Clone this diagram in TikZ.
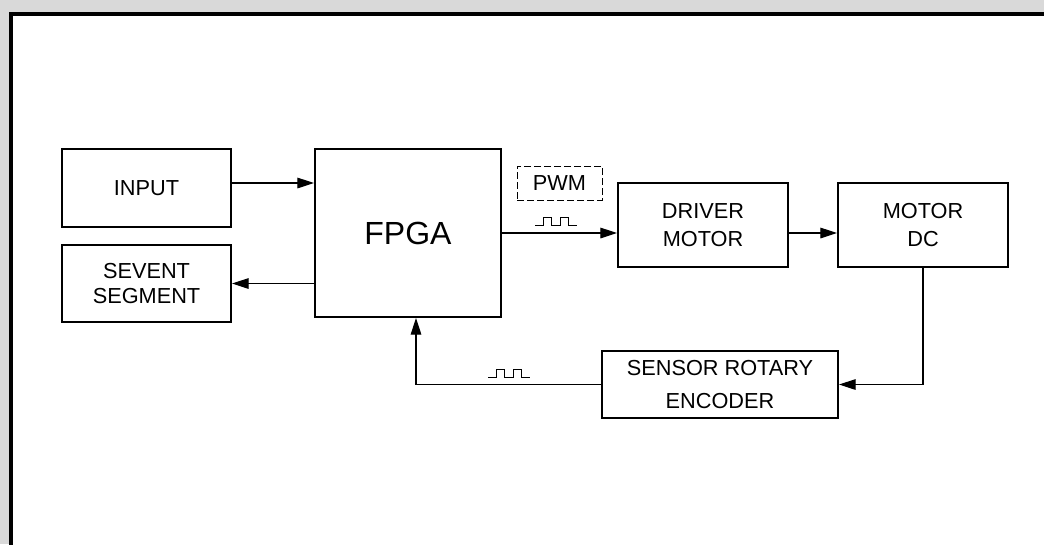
\documentclass[tikz,border=0pt]{standalone}
\usepackage{fontspec}
\setmainfont{Liberation Sans}
\usetikzlibrary{arrows.meta,calc}
\definecolor{bggray}{RGB}{217,217,217}
\begin{document}
\begin{tikzpicture}[x=0.75pt,y=-0.75pt,
  blk/.style={draw, line width=1.6pt, inner sep=0pt, align=center,
    font=\fontsize{16.3pt}{20.8pt}\selectfont},
  conn/.style={line width=0.8pt},
  arr/.style={conn, -{Triangle[length=12.5pt,width=8pt]}},
  pulse/.pic={\draw[line width=0.75pt] (0,0) -- (8.5,0) -- (8.5,-8) -- (16.5,-8) -- (16.5,0) -- (25,0) -- (25,-8) -- (33,-8) -- (33,0) -- (42,0);}
]
\path[use as bounding box] (0,0) rectangle (1044,544);
\begin{scope}
  \clip (0,0) rectangle (1044,544);
  \fill[bggray] (0,0) rectangle (1044,544);
  \draw[line width=3pt, fill=white] (11,14) rectangle (1080,580);
\end{scope}

\node[blk, minimum width=126.75pt, minimum height=58.5pt] (input) at (146.5,188) {INPUT};
\node[blk, minimum width=126.75pt, minimum height=57.75pt,
  font=\fontsize{16.3pt}{19pt}\selectfont] (seg) at (146.5,283.5) {SEVENT\\SEGMENT};
\node[blk, minimum width=139.5pt, minimum height=126pt,
  font=\fontsize{24pt}{28pt}\selectfont] (fpga) at (408,233) {FPGA};
\node[draw, dash pattern=on 5pt off 2.5pt, line width=0.75pt, inner sep=0pt,
  minimum width=63.75pt, minimum height=25.5pt,
  font=\fontsize{16.3pt}{20pt}\selectfont] (pwm) at (559.5,183) {PWM};
\node[blk, minimum width=127.5pt, minimum height=63pt] (driver) at (703,225) {DRIVER\\MOTOR};
\node[blk, minimum width=127.5pt, minimum height=63pt] (motor) at (923,225) {MOTOR\\DC};
\node[blk, minimum width=177pt, minimum height=50.25pt,
  font=\fontsize{16.3pt}{25pt}\selectfont] (sensor) at (720,384.5) {SENSOR ROTARY\\ENCODER};

\draw[arr] ($(input.east)+(0,-5)$) -- ($(fpga.west)+(0,-50)$);
\draw[arr] (fpga.west |- seg.east) -- (seg.east);
\draw[arr] (fpga.east) -- (fpga.east -| driver.west);
\draw[arr] (driver.east |- fpga.east) -- (motor.west |- fpga.east);
\draw[arr] (motor.south) |- (sensor.east);
\draw[arr] (sensor.west) -| ($(fpga.south)+(8,0)$);

\pic at (535,225) {pulse};
\pic at (488,377) {pulse};
\end{tikzpicture}
\end{document}
